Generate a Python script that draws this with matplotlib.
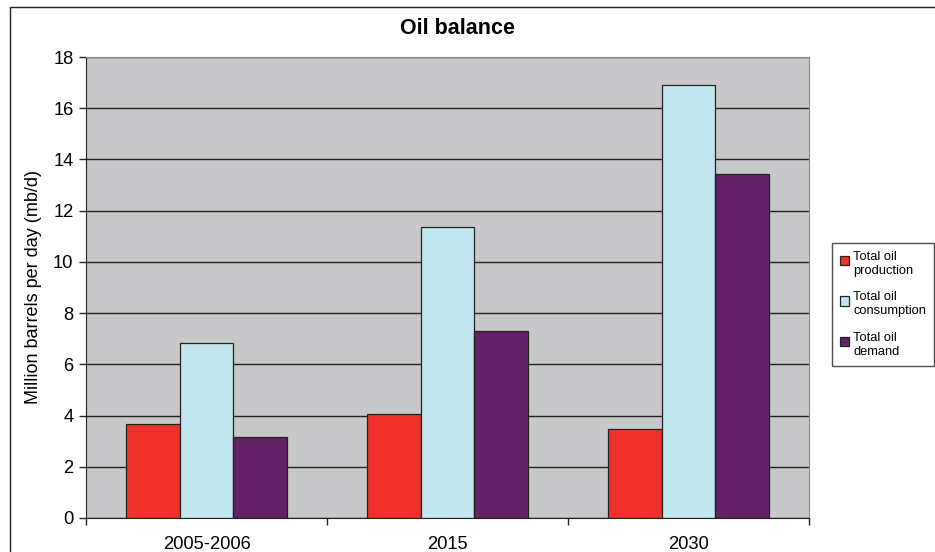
import matplotlib.pyplot as plt
import numpy as np
from matplotlib.patches import Rectangle
from matplotlib.container import BarContainer
from matplotlib.legend_handler import HandlerPatch

plt.rcParams['font.family'] = ['Liberation Sans', 'DejaVu Sans']

periods = ["2005-2006", "2015", "2030"]
series = ["Total oil\nproduction", "Total oil\nconsumption", "Total oil\ndemand"]
production = [3.67, 4.05, 3.47]
consumption = [6.83, 11.35, 16.9]
demand = [3.16, 7.32, 13.43]
colors = ["#ee312a", "#c1e6ef", "#632268"]

W, H = 935, 552
fig = plt.figure(figsize=(W / 100, H / 100), dpi=100)
ax = fig.add_axes([86 / W, 1 - 518 / H, (809 - 86) / W, (518 - 57) / H])

# outer chart frame (left and top edges visible)
fig.patches.append(Rectangle((10 / W, -0.1), 1.2, 1 - 7 / H + 0.1,
                             transform=fig.transFigure, fill=False,
                             edgecolor="#222222", linewidth=1.0))

x = np.arange(len(periods))
w = 0.222
for i, (vals, c, lab) in enumerate(zip([production, consumption, demand], colors, series)):
    ax.bar(x + (i - 1) * w, vals, width=w, color=c, edgecolor="#222222",
           linewidth=0.9, label=lab, zorder=3)

ax.set_facecolor("#c8c8ca")
ax.set_xlim(-0.5, 2.5)
ax.set_ylim(0, 18)
ax.set_yticks(range(0, 19, 2))
ax.yaxis.grid(True, color="#222222", linewidth=1.0, zorder=1)
ax.set_axisbelow(True)

ax.set_xticks(x)
ax.set_xticklabels(periods)
ax.set_xticks([-0.5, 0.5, 1.5, 2.5], minor=True)
ax.tick_params(axis="x", which="major", length=0, pad=13, labelsize=13.2)
ax.tick_params(axis="x", which="minor", length=5, width=1.0, color="#222222")
ax.tick_params(axis="y", length=5, width=1.0, color="#222222", labelsize=13.2, pad=4)

for s in ["top", "right"]:
    ax.spines[s].set_color("#888888")
for s in ["left", "bottom"]:
    ax.spines[s].set_color("#222222")

ax.set_ylabel("Million barrels per day (mb/d)", fontsize=13, labelpad=8)
fig.text(458 / W, 1 - 28 / H, "Oil balance", ha="center", va="center",
         fontsize=15.5, fontweight="bold")


# small square next to the first line of a two-line label
def top_square(legend, orig_handle, xdescent, ydescent, width, height, fontsize):
    s = 0.72 * fontsize
    return Rectangle((-xdescent, -ydescent + height - s - 1), s, s)


def first_bar(handle, orig):
    handle.update_from(orig[0])
    handle.set_linewidth(0.9)


leg = fig.legend(loc="upper left", bbox_to_anchor=(832 / W, 1 - 243 / H),
                 fontsize=9.3, frameon=True, fancybox=False, edgecolor="#222222",
                 handlelength=0.75, handleheight=1.95, handletextpad=0.3,
                 labelspacing=1.15, borderpad=0.6, borderaxespad=0,
                 handler_map={BarContainer: HandlerPatch(patch_func=top_square,
                                                         update_func=first_bar)})
leg.get_frame().set_linewidth(1.0)

fig.savefig("out.png", dpi=100)
